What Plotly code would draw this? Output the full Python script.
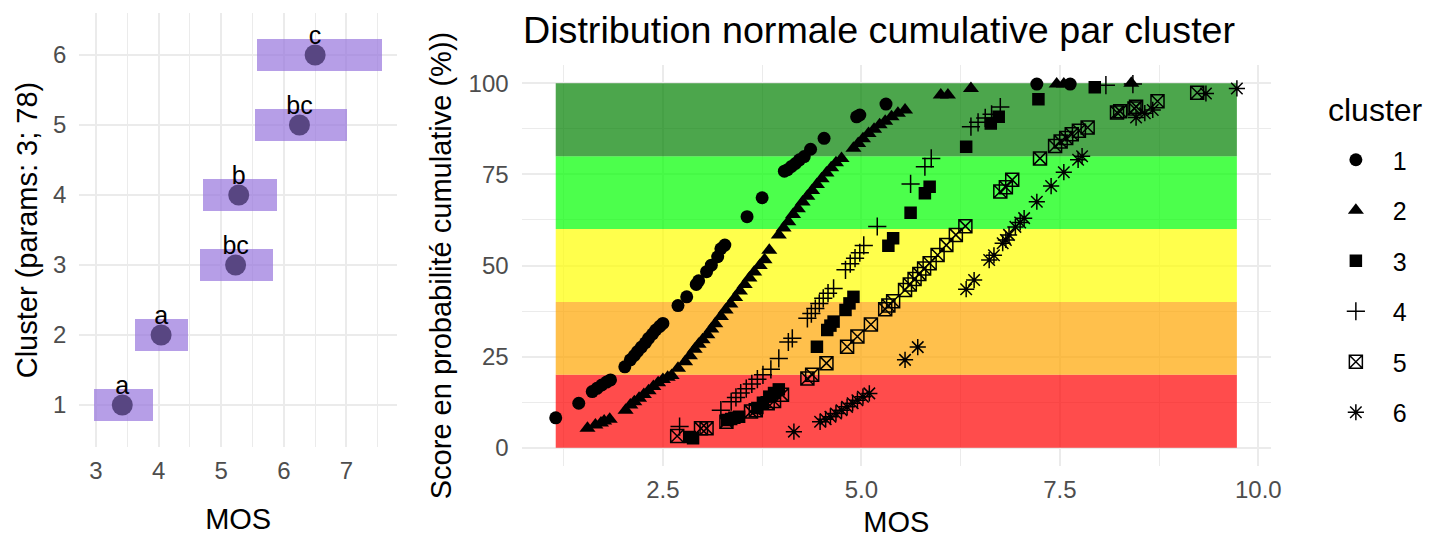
import plotly.graph_objects as go

# ---- Left panel: mean MOS per cluster with interval and group letters ----
clusters = [1, 2, 3, 4, 5, 6]
mos_mean = [3.42, 4.04, 5.23, 5.28, 6.25, 6.50]
mos_low = [2.97, 3.63, 4.66, 4.72, 5.55, 5.58]
mos_high = [3.92, 4.48, 5.83, 5.90, 7.01, 7.57]
group_letters = ["a", "a", "bc", "b", "bc", "c"]

# ---- Right panel: cumulative probability (%) vs MOS, per cluster ----
c1_x = [1.15, 1.44, 1.61, 1.67, 1.73, 1.79, 1.84, 2.02, 2.09, 2.14, 2.18, 2.23, 2.28, 2.32,
        2.37, 2.41, 2.46, 2.50, 2.69, 2.80, 2.92, 2.95, 3.05, 3.11, 3.19, 3.23, 3.28, 3.56,
        3.75, 4.03, 4.07, 4.12, 4.17, 4.22, 4.28, 4.36, 4.53, 4.94, 4.98, 5.31, 7.21, 7.63]
c1_y = [8.2, 12.2, 15.4, 16.3, 17.2, 18.0, 18.6, 22.2, 24.1, 25.3, 26.4, 27.6, 28.8, 30.0,
        31.2, 32.3, 33.3, 34.1, 39.0, 41.4, 44.8, 45.8, 48.3, 50.1, 52.4, 54.6, 55.6, 63.4,
        68.6, 75.9, 76.3, 77.2, 78.0, 79.0, 79.9, 81.9, 84.9, 90.8, 91.3, 94.3, 99.8, 99.8]

c2_x = [1.55, 1.65, 1.72, 1.76, 1.83, 2.03, 2.09, 2.14, 2.20, 2.26, 2.32, 2.38, 2.44, 2.50,
        2.56, 2.61, 2.69, 2.78, 2.84, 2.90, 2.95, 3.00, 3.06, 3.11, 3.16, 3.23, 3.29, 3.35,
        3.41, 3.47, 3.53, 3.59, 3.65, 3.72, 3.78, 3.84, 3.96, 4.02, 4.08, 4.14, 4.20, 4.26,
        4.32, 4.38, 4.44, 4.50, 4.56, 4.62, 4.68, 4.75, 4.90, 4.96, 5.02, 5.09, 5.16, 5.23,
        5.30, 5.38, 5.46, 5.55, 6.00, 6.09, 6.38, 7.46, 7.55, 8.40]
c2_y = [5.3, 6.2, 6.8, 7.3, 7.8, 10.3, 11.7, 12.6, 13.6, 14.6, 15.6, 16.8, 17.8, 18.7,
        19.3, 19.8, 21.8, 23.6, 25.2, 27.0, 28.4, 29.6, 31.0, 32.6, 34.0, 36.0, 37.8, 39.4,
        41.2, 43.0, 44.8, 46.6, 48.2, 50.0, 51.6, 54.2, 58.4, 60.3, 62.0, 64.0, 65.6, 67.4,
        69.0, 70.6, 72.2, 73.8, 75.4, 76.8, 78.2, 79.4, 82.2, 83.5, 84.8, 86.2, 87.4, 88.6,
        89.6, 90.8, 91.8, 92.7, 96.8, 96.8, 98.6, 99.8, 99.8, 100.0]

c3_x = [2.84, 2.88, 3.31, 3.36, 3.40, 3.46, 3.69, 3.76, 3.84, 3.90, 3.96, 4.44, 4.57, 4.61,
        4.65, 4.80, 4.85, 4.90, 5.34, 5.40, 5.62, 5.80, 5.86, 6.32, 6.63, 6.73, 7.23, 7.94]
c3_y = [2.9, 2.6, 7.6, 7.9, 8.2, 8.5, 10.9, 12.3, 14.0, 15.0, 16.0, 27.7, 32.3, 33.5,
        34.6, 37.8, 39.6, 41.4, 55.4, 57.5, 64.5, 69.8, 71.6, 82.6, 89.0, 90.8, 95.6, 98.9]

c4_x = [2.71, 3.23, 3.36, 3.42, 3.48, 3.55, 3.62, 3.69, 3.76, 3.86, 3.96, 4.08, 4.13, 4.32,
        4.37, 4.42, 4.47, 4.52, 4.58, 4.65, 4.80, 4.86, 4.92, 4.98, 5.03, 5.20, 5.62, 5.80,
        5.88, 6.38, 6.47, 6.56, 6.64, 6.75, 8.08, 8.42]
c4_y = [5.8, 10.3, 12.6, 13.8, 15.0, 16.2, 17.5, 18.8, 20.0, 21.5, 24.5, 29.0, 30.0, 35.5,
        36.8, 38.2, 39.6, 41.0, 42.4, 43.7, 48.8, 50.5, 52.0, 53.5, 55.5, 60.7, 72.4, 77.1,
        79.4, 88.1, 89.3, 90.5, 91.5, 93.5, 99.5, 99.8]

c5_x = [2.68, 2.98, 3.05, 3.30, 3.61, 3.67, 3.82, 3.90, 4.00, 4.32, 4.38, 4.56, 4.82, 4.95,
        5.12, 5.30, 5.34, 5.40, 5.55, 5.61, 5.67, 5.73, 5.79, 5.86, 5.96, 6.07, 6.19, 6.31,
        6.75, 6.82, 6.90, 7.25, 7.44, 7.51, 7.58, 7.65, 7.74, 7.85, 8.22, 8.26, 8.44, 8.46,
        8.73, 9.23]
c5_y = [3.2, 5.3, 5.3, 7.1, 9.9, 10.3, 12.2, 12.8, 14.5, 19.0, 20.0, 23.2, 27.7, 30.5,
        33.8, 38.0, 39.0, 40.2, 43.3, 44.8, 46.3, 47.7, 49.2, 50.6, 52.9, 55.6, 58.4, 60.8,
        70.3, 71.5, 73.5, 79.4, 82.8, 84.0, 85.0, 86.0, 87.0, 87.9, 92.0, 92.3, 93.1, 93.6,
        95.1, 97.4]

c6_x = [4.15, 4.48, 4.55, 4.61, 4.68, 4.75, 4.82, 4.89, 4.95, 5.02, 5.10, 5.55, 5.71, 6.32,
        6.42, 6.61, 6.67, 6.78, 6.82, 6.86, 6.94, 7.00, 7.05, 7.21, 7.39, 7.55, 7.73, 7.78,
        8.46, 8.57, 8.67, 9.34, 9.73]
c6_y = [4.4, 7.1, 7.8, 8.5, 9.4, 10.3, 11.2, 12.2, 13.0, 14.0, 14.9, 24.1, 27.6, 43.5,
        46.0, 51.5, 52.8, 56.1, 57.0, 58.4, 60.6, 61.8, 63.0, 67.5, 71.8, 75.6, 79.0, 80.0,
        90.6, 91.8, 92.7, 97.2, 98.6]

cluster_names = ["1", "2", "3", "4", "5", "6"]
series_x = [c1_x, c2_x, c3_x, c4_x, c5_x, c6_x]
series_y = [c1_y, c2_y, c3_y, c4_y, c5_y, c6_y]

# Probability bands (percent) behind the points
band_low = [0, 20, 40, 60, 80]
band_high = [20, 40, 60, 80, 100]
band_colors = ["rgba(255,0,0,0.7)", "rgba(255,165,0,0.7)", "rgba(255,255,0,0.7)",
               "rgba(0,255,0,0.7)", "rgba(0,128,0,0.7)"]

FONT = "Liberation Sans, Arial, sans-serif"
GRID = "#EBEBEB"
TICK_COLOR = "#4D4D4D"
W, H = 1442, 543

symbols = ["circle", "triangle-up", "square", "cross-thin-open", "square-x-open", "asterisk-open"]
sizes = [13, 14, 12.5, 13, 13, 13.5]

fig = go.Figure()

# Left panel: interval boxes
fig.add_trace(go.Bar(
    y=clusters, x=[h - l for l, h in zip(mos_low, mos_high)], base=mos_low,
    orientation="h", width=0.46,
    marker=dict(color="rgba(147,112,219,0.68)", line=dict(width=0)),
    xaxis="x", yaxis="y", showlegend=False, hoverinfo="skip",
))
# Left panel: means
fig.add_trace(go.Scatter(
    x=mos_mean, y=clusters, mode="markers",
    marker=dict(size=21, color="#584682"),
    xaxis="x", yaxis="y", showlegend=False,
))
# Left panel: group letters just above each mean
fig.add_trace(go.Scatter(
    x=mos_mean, y=clusters, mode="markers+text", text=group_letters,
    textposition="top center", textfont=dict(size=25, color="black", family=FONT),
    marker=dict(size=6, color="rgba(0,0,0,0)"),
    xaxis="x", yaxis="y", showlegend=False, hoverinfo="skip",
))

# Right panel: points per cluster
for name, xs, ys, sym, sz in zip(cluster_names, series_x, series_y, symbols, sizes):
    is_open = sym.endswith("-open")
    fig.add_trace(go.Scatter(
        x=xs, y=ys, mode="markers", name=name, legendgroup=name,
        marker=dict(symbol=sym, size=sz, color="black",
                    line=dict(color="black", width=1.5 if is_open else 0)),
        xaxis="x2", yaxis="y2",
    ))

all_x = [v for xs in series_x for v in xs]
x_min, x_max = min(all_x), max(all_x)
span = x_max - x_min
for lo, hi, col in zip(band_low, band_high, band_colors):
    fig.add_shape(type="rect", xref="x2", yref="y2", x0=x_min, x1=x_max, y0=lo, y1=hi,
                  fillcolor=col, line=dict(width=0), layer="between")

x2_range = [x_min - 0.05 * span, x_max + 0.05 * span]
# right panel scale: 80 px per MOS unit with 0 at x=468 px
x2_dom = [(468 + 80 * x2_range[0]) / W, (468 + 80 * x2_range[1]) / W]

axis_common = dict(
    showline=False, zeroline=False, showgrid=True, gridcolor=GRID, gridwidth=2.2,
    tickfont=dict(size=24, color=TICK_COLOR, family=FONT), ticks="",
)

fig.update_layout(
    width=W, height=H,
    margin=dict(l=0, r=0, t=0, b=0),
    paper_bgcolor="white", plot_bgcolor="white",
    font=dict(family=FONT, color="black"),
    bargap=0,
    title=dict(text="Distribution normale cumulative par cluster",
               x=527 / W, xanchor="left", xref="paper",
               y=1 - 30 / H, yanchor="middle", yref="paper",
               font=dict(size=37.7, color="black", family=FONT)),
    xaxis=dict(**axis_common, domain=[80 / W, 400 / W], range=[2.735, 7.807],
               tick0=3, dtick=1, anchor="y", ticklabelstandoff=7,
               minor=dict(showgrid=True, tick0=3, dtick=0.5, gridcolor=GRID, gridwidth=1.1),
               title=dict(text="MOS", font=dict(size=29, color="black"), standoff=25)),
    yaxis=dict(**axis_common, domain=[1 - 447 / H, 1 - 13 / H], range=[0.4, 6.6],
               tick0=1, dtick=1, anchor="x", ticklabelstandoff=12,
               title=dict(text="Cluster (params: 3; 78)", font=dict(size=29, color="black"),
                          standoff=6)),
    xaxis2=dict(**axis_common, domain=x2_dom, range=x2_range,
                tick0=0, dtick=2.5, tickformat=".1f", anchor="y2", ticklabelstandoff=7,
                minor=dict(showgrid=True, tick0=0, dtick=1.25, gridcolor=GRID, gridwidth=1.1),
                title=dict(text="MOS", font=dict(size=29, color="black"), standoff=9)),
    yaxis2=dict(**axis_common, domain=[1 - 465.9 / H, 1 - 65.1 / H], range=[-5, 105],
                tick0=0, dtick=25, anchor="x2", ticklabelstandoff=12,
                minor=dict(showgrid=True, tick0=0, dtick=12.5, gridcolor=GRID, gridwidth=1.1),
                title=dict(text="Score en probabilité cumulative (%))",
                           font=dict(size=29, color="black"), standoff=8)),
    legend=dict(x=1329 / W, xanchor="left", y=1 - 137 / H, yanchor="top",
                font=dict(size=25, color="black", family=FONT),
                itemwidth=64, tracegroupgap=15, traceorder="grouped",
                bgcolor="rgba(0,0,0,0)"),
    annotations=[dict(text="cluster", x=1336 / W, y=1 - 110 / H, xref="paper", yref="paper",
                      xanchor="left", yanchor="middle", showarrow=False,
                      font=dict(size=32, color="black", family=FONT))],
)

fig.write_html("out.html")
